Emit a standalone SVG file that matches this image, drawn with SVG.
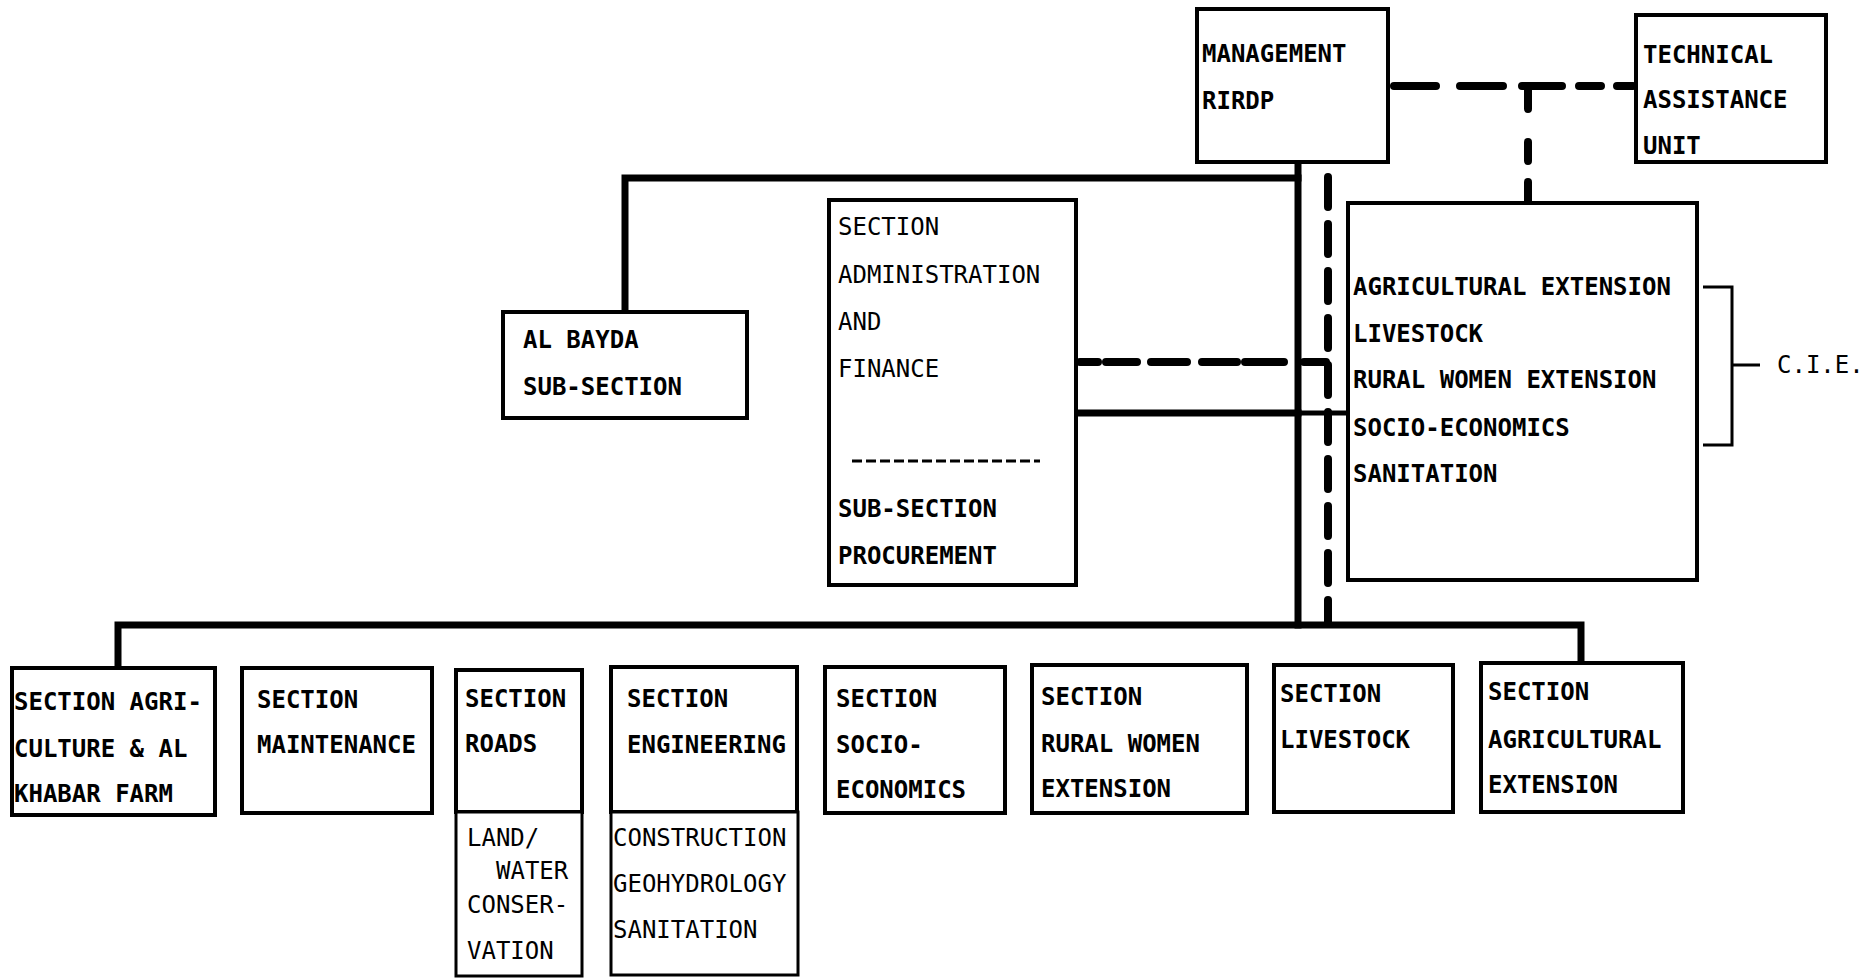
<svg xmlns="http://www.w3.org/2000/svg" width="1867" height="978" viewBox="0 0 1867 978">
<style>
.box{fill:#fff;stroke:#000;stroke-width:4}
.sub{fill:#fff;stroke:#000;stroke-width:3}
.t{font-family:"DejaVu Sans Mono","Liberation Mono",monospace;font-size:24px;font-weight:bold;fill:#000}
.n{font-weight:normal}
.solid{fill:none;stroke:#000;stroke-width:7;stroke-linecap:square}
.thin{fill:none;stroke:#000;stroke-width:5}
.dash{fill:none;stroke:#000;stroke-width:8;stroke-linecap:round}
.br{fill:none;stroke:#000;stroke-width:3}
</style>
<rect width="1867" height="978" fill="#fff"/>
<g id="connectors">
<path class="solid" d="M1298 162 V625"/>
<path class="solid" d="M1298 178 H625 V312"/>
<path class="solid" d="M118 668 V625 H1581 V663"/>
<path class="solid" d="M1076 413 H1298"/>
<path class="thin" d="M1298 413 H1348"/>
<path class="dash" d="M1328 177 V622" stroke-dasharray="30 17"/>
<path class="dash" d="M1394 86 H1436 M1460 86 H1503 M1522 86 H1562 M1579 86 H1601 M1617 86 H1633"/>
<path class="dash" d="M1528 88 V109 M1528 142 V161 M1528 182 V201"/>
<path class="dash" d="M1080 362 H1098 M1106 362 H1137 M1151 362 H1187 M1202 362 H1237 M1245 362 H1284 M1304 362 H1326"/>
<path class="br" d="M1703 287 H1732 V445 H1703 M1732 365 H1760"/>
</g>
<g id="management">
<rect class="box" x="1197" y="9" width="191" height="153"/>
<text class="t" x="1202" y="62">MANAGEMENT</text>
<text class="t" x="1202" y="109">RIRDP</text>
</g>
<g id="technical">
<rect class="box" x="1636" y="15" width="190" height="147"/>
<text class="t" x="1643" y="63">TECHNICAL</text>
<text class="t" x="1643" y="108">ASSISTANCE</text>
<text class="t" x="1643" y="154">UNIT</text>
</g>
<g id="albayda">
<rect class="box" x="503" y="312" width="244" height="106"/>
<text class="t" x="523" y="348">AL BAYDA</text>
<text class="t" x="523" y="395">SUB-SECTION</text>
</g>
<g id="admin">
<rect class="box" x="829" y="200" width="247" height="385"/>
<text class="t n" x="838" y="235">SECTION</text>
<text class="t n" x="838" y="283">ADMINISTRATION</text>
<text class="t n" x="838" y="330">AND</text>
<text class="t n" x="838" y="377">FINANCE</text>
<path d="M852 461 H1040" stroke="#000" stroke-width="3" stroke-dasharray="10 4"/>
<text class="t" x="838" y="517">SUB-SECTION</text>
<text class="t" x="838" y="564">PROCUREMENT</text>
</g>
<g id="cie">
<rect class="box" x="1348" y="203" width="349" height="377"/>
<text class="t" x="1353" y="295">AGRICULTURAL EXTENSION</text>
<text class="t" x="1353" y="342">LIVESTOCK</text>
<text class="t" x="1353" y="388">RURAL WOMEN EXTENSION</text>
<text class="t" x="1353" y="436">SOCIO-ECONOMICS</text>
<text class="t" x="1353" y="482">SANITATION</text>
<text class="t n" x="1777" y="373">C.I.E.</text>
</g>
<g id="agriculture">
<rect class="box" x="12" y="668" width="203" height="147"/>
<text class="t" x="14" y="710">SECTION AGRI-</text>
<text class="t" x="14" y="757">CULTURE &amp; AL</text>
<text class="t" x="14" y="802">KHABAR FARM</text>
</g>
<g id="maintenance">
<rect class="box" x="242" y="668" width="190" height="145"/>
<text class="t" x="257" y="708">SECTION</text>
<text class="t" x="257" y="753">MAINTENANCE</text>
</g>
<g id="roads">
<rect class="box" x="456" y="670" width="126" height="142"/>
<text class="t" x="465" y="707">SECTION</text>
<text class="t" x="465" y="752">ROADS</text>
<rect class="sub" x="456" y="812" width="126" height="164"/>
<text class="t n" x="467" y="846">LAND/</text>
<text class="t n" x="496" y="879">WATER</text>
<text class="t n" x="467" y="913">CONSER-</text>
<text class="t n" x="467" y="959">VATION</text>
</g>
<g id="engineering">
<rect class="box" x="611" y="667" width="186" height="145"/>
<text class="t" x="627" y="707">SECTION</text>
<text class="t" x="627" y="753">ENGINEERING</text>
<rect class="sub" x="611" y="812" width="187" height="163"/>
<text class="t n" x="613" y="846">CONSTRUCTION</text>
<text class="t n" x="613" y="892">GEOHYDROLOGY</text>
<text class="t n" x="613" y="938">SANITATION</text>
</g>
<g id="socio">
<rect class="box" x="825" y="667" width="180" height="146"/>
<text class="t" x="836" y="707">SECTION</text>
<text class="t" x="836" y="753">SOCIO-</text>
<text class="t" x="836" y="798">ECONOMICS</text>
</g>
<g id="ruralwomen">
<rect class="box" x="1032" y="665" width="215" height="148"/>
<text class="t" x="1041" y="705">SECTION</text>
<text class="t" x="1041" y="752">RURAL WOMEN</text>
<text class="t" x="1041" y="797">EXTENSION</text>
</g>
<g id="livestock">
<rect class="box" x="1274" y="665" width="179" height="147"/>
<text class="t" x="1280" y="702">SECTION</text>
<text class="t" x="1280" y="748">LIVESTOCK</text>
</g>
<g id="agriext">
<rect class="box" x="1481" y="663" width="202" height="149"/>
<text class="t" x="1488" y="700">SECTION</text>
<text class="t" x="1488" y="748">AGRICULTURAL</text>
<text class="t" x="1488" y="793">EXTENSION</text>
</g>
</svg>
